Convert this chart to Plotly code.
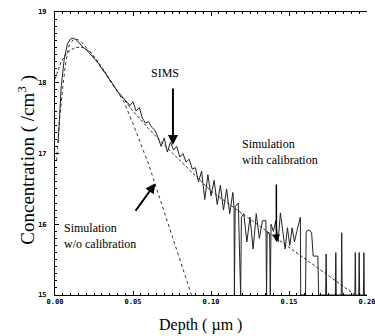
import plotly.graph_objects as go

# ---- data (log10 concentration vs depth in um) ----
sims_x = [0.002, 0.004, 0.006, 0.008, 0.010, 0.012, 0.014, 0.016, 0.018, 0.020,
          0.022, 0.024, 0.026, 0.028, 0.030, 0.032, 0.034, 0.036, 0.038, 0.040,
          0.042, 0.044, 0.046, 0.048, 0.050, 0.052, 0.054, 0.056, 0.058, 0.060,
          0.062, 0.064, 0.066, 0.068, 0.070, 0.072, 0.074, 0.076, 0.078, 0.080,
          0.082, 0.084, 0.086, 0.088, 0.090, 0.092, 0.094, 0.096, 0.098, 0.100,
          0.102, 0.104, 0.106, 0.108, 0.110, 0.112, 0.114, 0.1148, 0.115, 0.1155,
          0.1175, 0.119, 0.1195, 0.121, 0.123, 0.125, 0.127, 0.129, 0.131, 0.133,
          0.1352, 0.1356, 0.136, 0.1376, 0.138, 0.1385, 0.140, 0.1415, 0.143, 0.1445,
          0.146, 0.1475, 0.149, 0.1505, 0.152, 0.1535, 0.155, 0.1565, 0.1573, 0.1575,
          0.1606, 0.161, 0.163, 0.1645, 0.1655, 0.1685, 0.169,
          0.1735, 0.1738, 0.1741, 0.1797, 0.180, 0.1803, 0.1835, 0.1838, 0.1841,
          0.1922, 0.1925, 0.1928, 0.1947, 0.195, 0.1953, 0.1977, 0.198, 0.1983, 0.2]
sims_y = [17.15, 17.95, 18.35, 18.55, 18.62, 18.63, 18.60, 18.55, 18.50, 18.47,
          18.42, 18.38, 18.32, 18.27, 18.20, 18.15, 18.08, 18.02, 17.95, 17.88,
          17.83, 17.78, 17.72, 17.68, 17.73, 17.60, 17.65, 17.50, 17.43, 17.45,
          17.37, 17.33, 17.23, 17.10, 17.22, 17.02, 17.16, 17.05, 17.10, 16.95,
          17.00, 16.88, 16.92, 16.78, 16.80, 16.60, 16.75, 16.35, 16.70, 16.40,
          16.62, 16.28, 16.55, 16.20, 16.50, 16.15, 16.45, 16.22, 15.00, 16.25,
          16.30, 15.00, 16.10, 16.15, 15.75, 16.10, 15.65, 16.15, 15.80, 16.05,
          16.05, 15.00, 15.90, 15.85, 15.00, 16.00, 15.90, 16.05, 15.75, 16.16,
          15.90, 15.65, 15.95, 15.70, 15.95, 15.75, 15.90, 16.05, 16.10, 15.00,
          15.00, 15.90, 15.92, 15.88, 15.55, 15.55, 15.00,
          15.00, 15.58, 15.00, 15.00, 15.60, 15.00, 15.00, 15.88, 15.00,
          15.00, 15.60, 15.00, 15.00, 15.60, 15.00, 15.00, 15.60, 15.00, 15.00]

cal_x = [0.000, 0.004, 0.008, 0.013, 0.018, 0.023, 0.030, 0.040, 0.050, 0.060,
         0.070, 0.080, 0.090, 0.100, 0.110, 0.120, 0.130, 0.140, 0.150, 0.160,
         0.170, 0.180, 0.1925]
cal_y = [18.05, 18.30, 18.43, 18.50, 18.50, 18.43, 18.22, 17.88, 17.60, 17.35,
         17.12, 16.90, 16.68, 16.47, 16.31, 16.15, 15.99, 15.83, 15.67, 15.51,
         15.35, 15.20, 15.00]

nocal_x = [0.001, 0.003, 0.005, 0.007, 0.009, 0.012, 0.016, 0.020, 0.025, 0.030,
           0.035, 0.040, 0.044, 0.050, 0.055, 0.060, 0.064, 0.070, 0.075, 0.080,
           0.0875]
nocal_y = [16.90, 17.50, 17.95, 18.30, 18.52, 18.62, 18.60, 18.50, 18.37, 18.20,
           18.03, 17.86, 17.74, 17.42, 17.13, 16.85, 16.58, 16.17, 15.83, 15.49,
           15.00]

x_tickvals = [0.00, 0.05, 0.10, 0.15, 0.20]
x_ticktext = ["0.00", "0.05", "0.10", "0.15", "0.20"]
y_tickvals = [15, 16, 17, 18, 19]
y_ticktext = ["15", "16", "17", "18", "19"]

fig = go.Figure()
fig.add_trace(go.Scatter(x=nocal_x, y=nocal_y, mode="lines",
                         line=dict(color="#333333", width=1, dash="dot"),
                         showlegend=False, hoverinfo="skip"))
fig.add_trace(go.Scatter(x=cal_x, y=cal_y, mode="lines",
                         line=dict(color="#333333", width=1, dash="3px,2px"),
                         showlegend=False, hoverinfo="skip"))
fig.add_trace(go.Scatter(x=sims_x, y=sims_y, mode="lines",
                         line=dict(color="#222222", width=1),
                         showlegend=False, hoverinfo="skip"))

tickfont = dict(family="DejaVu Sans Mono", size=7, color="black", weight="bold")
serif = "Liberation Serif"

fig.update_xaxes(range=[0, 0.2], tickvals=x_tickvals, ticktext=x_ticktext,
                 showgrid=False, zeroline=False, showline=True, linecolor="black",
                 linewidth=1, mirror="ticks", ticks="inside", ticklen=4,
                 tickcolor="black", tickfont=tickfont, ticklabeloverflow="allow",
                 minor=dict(dtick=0.005, ticks="inside", ticklen=2, tickcolor="black"))
fig.update_yaxes(range=[15, 19], tickvals=y_tickvals, ticktext=y_ticktext,
                 showgrid=False, zeroline=False, showline=True, linecolor="black",
                 linewidth=1, ticks="inside", ticklen=4, tickcolor="black",
                 tickfont=tickfont, ticklabelstandoff=6,
                 minor=dict(dtick=0.1, ticks="inside", ticklen=2, tickcolor="black"))

# plot area in pixels: left 55, right 375, top 12, bottom 295
def px_x(p):
    return (p - 55) / 320.0

def px_y(p):
    return (295 - p) / 283.0

ann_font = dict(family=serif, size=12, color="black")
annotations = [
    dict(text="SIMS", x=0.0706, y=18.14, xref="x", yref="y", showarrow=False,
         font=ann_font),
    dict(text="", x=0.0756, y=17.12, xref="x", yref="y", showarrow=True,
         ax=0, ay=-58, arrowhead=2, arrowsize=1, arrowwidth=2, arrowcolor="black"),
    dict(text="Simulation<br>with calibration", x=0.11875, y=17.02, xref="x", yref="y",
         xanchor="left", yanchor="middle", align="left", showarrow=False, font=ann_font),
    dict(text="", x=0.1419, y=15.75, xref="x", yref="y", showarrow=True,
         ax=0, ay=-59, arrowhead=2, arrowsize=1, arrowwidth=1.5, arrowcolor="black"),
    dict(text="Simulation<br>w/o calibration", x=0.0044, y=15.83, xref="x", yref="y",
         xanchor="left", yanchor="middle", align="left", showarrow=False, font=ann_font),
    dict(text="", x=0.0644, y=16.58, xref="x", yref="y", showarrow=True,
         ax=-21, ay=29, arrowhead=2, arrowsize=1, arrowwidth=2, arrowcolor="black"),
    dict(text="Depth ( µm )", x=px_x(204), y=px_y(325), xref="paper", yref="paper",
         showarrow=False, font=dict(family=serif, size=16, color="black"),
         xanchor="center", yanchor="middle"),
    dict(text="Concentration ( /cm<sup>3</sup> )", x=px_x(26), y=px_y(160),
         xref="paper", yref="paper",
         showarrow=False, font=dict(family=serif, size=19, color="black"),
         textangle=-90, xanchor="center", yanchor="middle"),
]

fig.update_layout(width=375, height=336, margin=dict(l=55, r=0, t=12, b=41),
                  paper_bgcolor="white", plot_bgcolor="white",
                  annotations=annotations)

fig.write_html("out.html")
